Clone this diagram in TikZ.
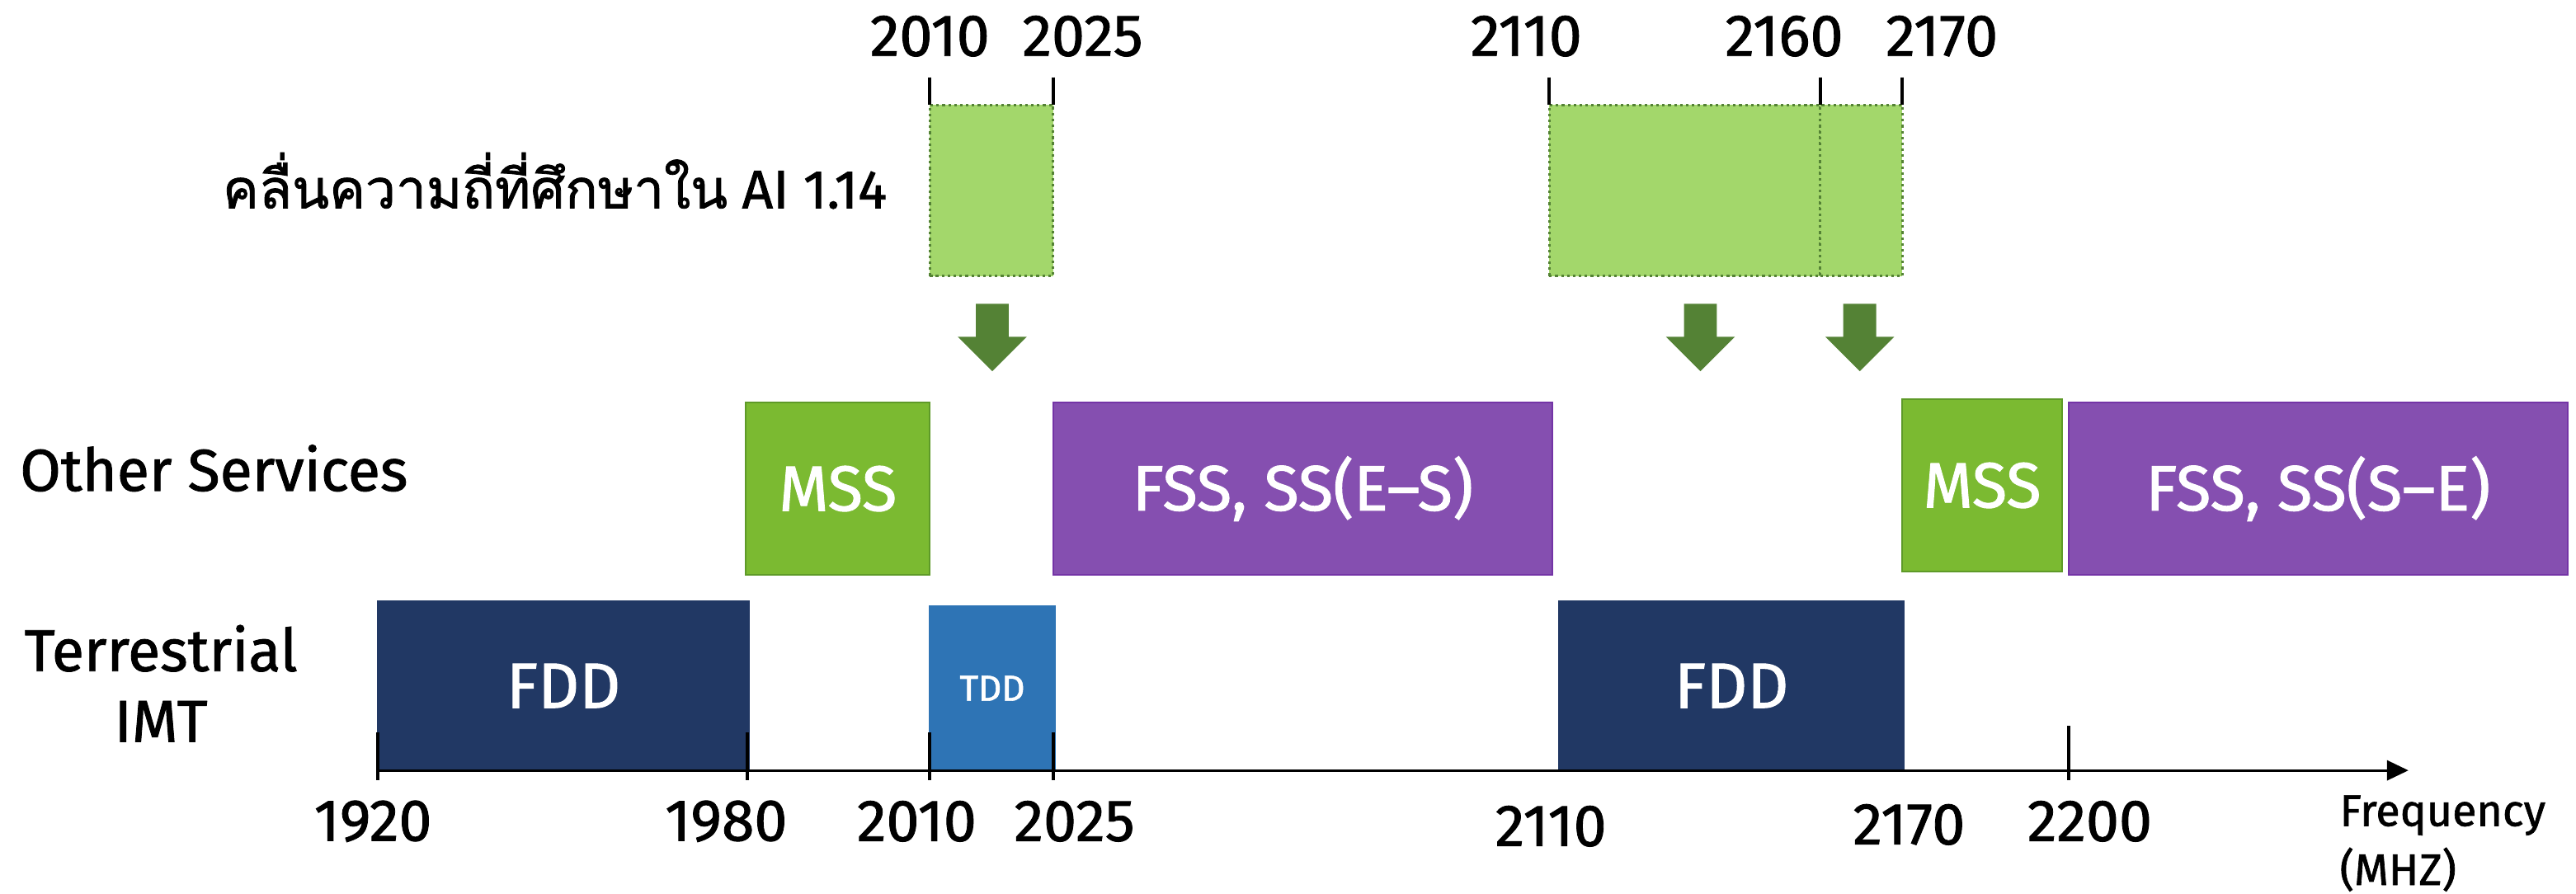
\documentclass[tikz,border=0pt]{standalone}
\usepackage{fontspec}
\setmainfont{Fira Sans}[FakeBold=1.2]
\newfontfamily\thaifont[Script=Thai,FakeBold=1.2]{Loma}
\usetikzlibrary{arrows.meta}
\definecolor{propfill}{HTML}{A3D76B}
\definecolor{propline}{HTML}{548235}
\definecolor{mssfill}{HTML}{7BBA31}
\definecolor{mssline}{HTML}{5E9A28}
\definecolor{fssfill}{HTML}{854FB0}
\definecolor{fssline}{HTML}{7434A6}
\definecolor{fddfill}{HTML}{213864}
\definecolor{tddfill}{HTML}{2E74B5}
\definecolor{arrgreen}{HTML}{548235}
\begin{document}
\begin{tikzpicture}[x=1pt,y=-1pt,
  band/.style={draw, line width=1pt, inner sep=0pt, text=white,
    font=\fontsize{39}{44}\selectfont},
  mss/.style={band, fill=mssfill, draw=mssline},
  fss/.style={band, fill=fssfill, draw=fssline},
  fdd/.style={band, fill=fddfill, draw=fddfill},
  tdd/.style={band, fill=tddfill, draw=tddfill, font=\fontsize{22}{26}\selectfont},
  prop/.style={fill=propfill, draw=propline, dotted, line width=1.6pt, inner sep=0pt},
  lbl/.style={font=\fontsize{36}{43}\selectfont, inner sep=0pt},
  axisline/.style={line width=1.6pt, -{Triangle[length=13pt,width=12pt]}},
  tick/.style={line width=2pt},
  downarr/.pic={\fill[arrgreen] (-10,0) -- (10,0) -- (10,20) -- (21,20) -- (0,41) -- (-21,20) -- (-10,20) -- cycle;}
]
\useasboundingbox (0,0) rectangle (1568,544);

% proposal bands
\node[prop, minimum width=75pt, minimum height=104pt] (p1) at (603.5,116) {};
\node[prop, minimum width=165pt, minimum height=104pt] (p2) at (1025.5,116) {};
\node[prop, minimum width=50pt, minimum height=104pt] (p3) at (1133,116) {};

% top ticks and labels
\foreach \x/\n in {566/t1,641/t2,943/t3,1108/t4,1158/t5}{
  \coordinate (\n a) at (\x,47);
  \coordinate (\n b) at (\x,64);
  \draw[tick] (\n a) -- (\n b);
}
\node[lbl] (tl1) at (566,22) {2010};
\node[lbl] (tl2) at (659,22) {2025};
\node[lbl] (tl3) at (929,22) {2110};
\node[lbl] (tl4) at (1086,22) {2160};
\node[lbl] (tl5) at (1182,22) {2170};

\node[lbl, anchor=east, font=\fontsize{33}{40}\selectfont] (thai) at (540,110) {{\thaifont คลื่นความถี่ที่ศึกษาใน} AI 1.14};

% green arrows
\pic at (604,185) {downarr};
\pic at (1035,185) {downarr};
\pic at (1132,185) {downarr};

% other services
\node[mss, minimum width=112pt, minimum height=105pt] (mss1) at (510,297.5) {MSS};
\node[fss, minimum width=304pt, minimum height=105pt] (fss1) at (793,297.5) {FSS, SS(E–S)};
\node[mss, minimum width=97pt, minimum height=105pt] (mss2) at (1206.5,295.5) {MSS};
\node[fss, minimum width=304pt, minimum height=105pt] (fss2) at (1411,297.5) {FSS, SS(S–E)};

% terrestrial IMT
\node[fdd, minimum width=226pt, minimum height=103pt] (fdd1) at (343,417.5) {FDD};
\node[tdd, minimum width=76pt, minimum height=100pt] (tdd) at (604,419) {TDD};
\node[fdd, minimum width=210pt, minimum height=103pt] (fdd2) at (1054,417.5) {FDD};

% row labels
\node[lbl, anchor=west] (other) at (12,285) {Other Services};
\node[lbl, align=center] (terr) at (98,416) {Terrestrial\\IMT};

% axis
\coordinate (ax0) at (230,469);
\coordinate (ax1) at (1466,469);
\draw[axisline] (ax0) -- (ax1);
\foreach \x/\n in {230/b1,455/b2,566/b3,641/b4}{
  \coordinate (\n a) at (\x,446);
  \coordinate (\n b) at (\x,475);
  \draw[tick] (\n a) -- (\n b);
}
\coordinate (b7a) at (1259,442);
\coordinate (b7b) at (1259,475);
\draw[tick] (b7a) -- (b7b);

\node[lbl] (l1) at (227,500) {1920};
\node[lbl] (l2) at (442,500) {1980};
\node[lbl] (l3) at (558,500) {2010};
\node[lbl] (l4) at (654,500) {2025};
\node[lbl] (l5) at (944,503) {2110};
\node[lbl] (l6) at (1162,502) {2170};
\node[lbl] (l7) at (1272,500) {2200};
\node[anchor=north west, align=left, inner sep=0pt, font=\fontsize{27}{36}\selectfont] (freq) at (1424,484) {Frequency\\(MHZ)};
\end{tikzpicture}
\end{document}
